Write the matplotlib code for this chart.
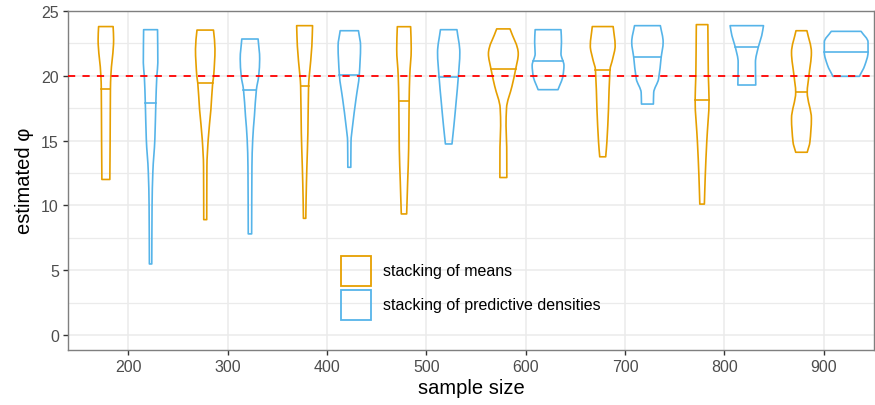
import numpy as np
import matplotlib
matplotlib.use('Agg')
import matplotlib.pyplot as plt
from matplotlib.patches import Rectangle, PathPatch
from matplotlib.path import Path

plt.rcParams['font.family'] = ['Liberation Sans', 'DejaVu Sans']

# sample sizes on the x axis, two methods dodged around each one
sample_sizes = [200, 300, 400, 500, 600, 700, 800, 900]
method_names = ["stacking of means", "stacking of predictive densities"]
method_colors = ["#E69F00", "#56B4E9"]
true_phi = 20

# medians of the estimated phi
median_means = [18.98, 19.44, 19.24, 18.08, 20.55, 20.45, 18.16, 18.73]
median_dens = [17.9, 18.93, 20.06, 19.93, 21.17, 21.42, 22.25, 21.81]

# violin outlines: (phi, half width) from top to bottom
prof_means = [
    [(23.8, 7.3), (22.8, 7.8), (20.0, 5.0), (19.0, 4.6), (15.0, 4.3), (12.0, 4.0)],
    [(23.53, 8.3), (22.07, 9.8), (20.0, 8.5), (19.44, 7.5), (17.4, 5.7), (15.1, 3.0), (13.0, 1.7), (8.9, 1.5)],
    [(23.87, 8.0), (22.3, 7.3), (20.0, 4.7), (19.24, 4.0), (15.6, 3.3), (13.0, 2.3), (10.5, 1.5), (9.0, 1.2)],
    [(23.79, 6.7), (22.07, 7.3), (20.0, 5.8), (18.08, 5.2), (14.35, 4.7), (11.8, 3.7), (9.34, 2.7)],
    [(23.62, 6.7), (21.7, 15.0), (20.55, 12.5), (19.2, 8.7), (17.5, 3.2), (16.15, 2.7), (14.5, 3.4), (12.15, 3.5)],
    [(23.8, 10.5), (22.3, 12.5), (21.3, 10.0), (20.45, 7.3), (17.4, 5.8), (14.9, 4.2), (13.75, 3.0)],
    [(23.95, 5.8), (20.0, 6.3), (18.16, 7.0), (14.9, 4.7), (12.3, 3.2), (10.1, 2.3)],
    [(23.48, 5.5), (21.8, 10.0), (20.0, 7.5), (18.73, 5.8), (16.7, 10.0), (14.9, 8.5), (14.1, 5.8)],
]
prof_dens = [
    [(23.56, 7.0), (21.0, 7.3), (20.0, 6.3), (17.9, 5.3), (15.1, 4.3), (12.6, 2.3), (10.0, 1.5), (5.48, 1.2)],
    [(22.84, 8.2), (21.3, 9.8), (20.0, 8.8), (18.93, 6.5), (16.9, 4.5), (15.1, 2.8), (13.0, 2.0), (7.8, 1.7)],
    [(23.48, 9.2), (22.3, 11.3), (20.06, 10.0), (18.2, 6.7), (16.15, 3.3), (14.9, 1.7), (12.94, 1.5)],
    [(23.56, 8.3), (21.8, 11.2), (19.93, 9.7), (18.0, 7.5), (16.2, 5.3), (14.74, 3.3)],
    [(23.56, 13.0), (22.6, 13.5), (21.7, 13.0), (20.8, 16.0), (20.0, 15.0), (18.93, 10.0)],
    [(23.87, 13.0), (22.6, 15.8), (21.42, 13.8), (19.75, 11.2), (18.7, 6.3), (17.82, 6.0)],
    [(23.87, 16.8), (23.1, 15.0), (22.25, 11.7), (21.04, 8.7), (19.29, 9.0)],
    [(23.43, 15.0), (22.6, 22.0), (21.81, 22.0), (20.8, 18.7), (19.96, 13.3)],
]

DODGE = 22.5
GRID = "#EBEBEB"
LW = 1.2


def slopes(ys, hw):
    # monotone (Fritsch-Carlson style) tangents dhw/dy at each knot
    d = np.diff(hw) / np.diff(ys)
    m = np.zeros(len(ys))
    m[0], m[-1] = d[0], d[-1]
    for k in range(1, len(ys) - 1):
        if d[k - 1] * d[k] > 0:
            m[k] = 2.0 / (1.0 / d[k - 1] + 1.0 / d[k])
    return m


def side_segments(xc, sign, ys, hw, m):
    verts = []
    for k in range(len(ys) - 1):
        h = ys[k + 1] - ys[k]
        verts.append((xc + sign * (hw[k] + m[k] * h / 3), ys[k] + h / 3))
        verts.append((xc + sign * (hw[k + 1] - m[k + 1] * h / 3), ys[k + 1] - h / 3))
        verts.append((xc + sign * hw[k + 1], ys[k + 1]))
    return verts


def draw_violin(ax, xc, prof, med, color):
    ys = np.array([p[0] for p in prof])
    hw = np.array([p[1] for p in prof])
    m = slopes(ys, hw)
    verts = [(xc + hw[0], ys[0])]
    codes = [Path.MOVETO]
    right = side_segments(xc, 1, ys, hw, m)
    verts += right
    codes += [Path.CURVE4] * len(right)
    # flat trimmed bottom
    verts.append((xc - hw[-1], ys[-1]))
    codes.append(Path.LINETO)
    left = side_segments(xc, -1, ys[::-1], hw[::-1], m[::-1])
    verts += left
    codes += [Path.CURVE4] * len(left)
    verts.append((xc + hw[0], ys[0]))
    codes.append(Path.CLOSEPOLY)
    ax.add_patch(PathPatch(Path(verts, codes), fill=False, edgecolor=color,
                           lw=LW, joinstyle='round', zorder=3))
    mw = np.interp(med, ys[::-1], hw[::-1])
    ax.plot([xc - mw, xc + mw], [med, med], color=color, lw=LW, zorder=3)


fig = plt.figure(figsize=(8.75, 4.06), dpi=100)
ax = fig.add_axes([68 / 875, 1 - 351 / 406, 806 / 875, (351 - 11.5) / 406])

for i, s in enumerate(sample_sizes):
    draw_violin(ax, s - DODGE, prof_means[i], median_means[i], method_colors[0])
    draw_violin(ax, s + DODGE, prof_dens[i], median_dens[i], method_colors[1])

ax.axhline(true_phi, color="red", ls=(0, (4, 4)), lw=1.3, zorder=4)

ax.set_xlim(139.4, 950.5)
ax.set_ylim(-1.16, 25.04)
ax.set_xticks(sample_sizes)
ax.set_yticks([0, 5, 10, 15, 20, 25])
ax.set_yticks([2.5, 7.5, 12.5, 17.5, 22.5], minor=True)
ax.grid(True, which='major', color=GRID, lw=1.1, zorder=0)
ax.grid(True, which='minor', axis='y', color=GRID, lw=0.9, zorder=0)
ax.set_axisbelow(True)
ax.tick_params(axis='both', which='major', length=3.5, width=1.0, color="#333333",
               labelcolor="#4D4D4D", labelsize=11.5, pad=3)
ax.tick_params(axis='y', which='minor', length=0)
for sp in ax.spines.values():
    sp.set_color("#7F7F7F")
    sp.set_linewidth(1.0)

ax.set_xlabel("sample size", fontsize=14.5, labelpad=3)
ax.set_ylabel("estimated \u03c6", fontsize=14.5, labelpad=5)

# legend drawn by hand inside the panel
for k, (name, col) in enumerate(zip(method_names, method_colors)):
    top = 256 + k * 33.5
    fig.patches.append(Rectangle((341 / 875, 1 - (top + 31) / 406), 30 / 875, 30 / 406,
                                 transform=fig.transFigure, fill=False,
                                 edgecolor=col, lw=1.3, zorder=5))
    fig.text(383 / 875, 1 - (top + 16) / 406, name, fontsize=11.5,
             va='center', ha='left', color="black")

fig.savefig("out.png", dpi=100)
